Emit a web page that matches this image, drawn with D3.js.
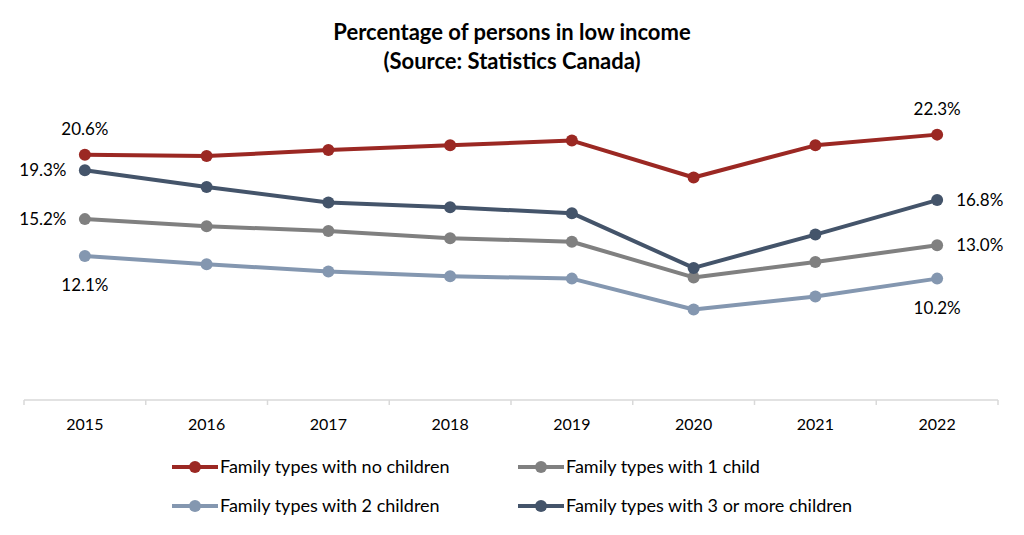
<!DOCTYPE html>
<html>
<head>
<meta charset="utf-8">
<script src="https://cdn.jsdelivr.net/npm/d3@7"></script>
<style>
  body { margin: 0; background: #fff; }
  svg text { font-family: Lato, "Open Sans", sans-serif; fill: #000; }
</style>
</head>
<body>
<svg id="chart" width="1024" height="535"></svg>
<script>
const years = ["2015", "2016", "2017", "2018", "2019", "2020", "2021", "2022"];
const noChildren = [20.6, 20.5, 21.0, 21.4, 21.8, 18.7, 21.4, 22.3];
const oneChild = [15.2, 14.6, 14.2, 13.6, 13.3, 10.3, 11.6, 13.0];
const twoChildren = [12.1, 11.4, 10.8, 10.4, 10.2, 7.6, 8.7, 10.2];
const threePlus = [19.3, 17.9, 16.6, 16.2, 15.7, 11.1, 13.9, 16.8];

const series = [
  { name: "Family types with no children", values: noChildren, color: "#9B2823" },
  { name: "Family types with 1 child", values: oneChild, color: "#808080" },
  { name: "Family types with 2 children", values: twoChildren, color: "#8497B0" },
  { name: "Family types with 3 or more children", values: threePlus, color: "#44546A" }
];

// drawing order: the dark series sits on top of the grey ones
const drawOrder = [series[2], series[1], series[3], series[0]];

const svg = d3.select("#chart");

const x = d3.scaleBand().domain(years).range([24, 998]);
const y = d3.scaleLinear().domain([0, 25]).range([400, 102.5]);

// title
svg.append("text")
  .attr("x", 512).attr("y", 40)
  .attr("text-anchor", "middle")
  .style("font-size", "22px").style("font-weight", "bold")
  .text("Percentage of persons in low income");
svg.append("text")
  .attr("x", 512).attr("y", 69)
  .attr("text-anchor", "middle")
  .style("font-size", "22px").style("font-weight", "bold")
  .text("(Source: Statistics Canada)");

// x axis
const xAxis = svg.append("g")
  .attr("transform", "translate(0,400)");
xAxis.append("line")
  .attr("x1", x.range()[0]).attr("x2", x.range()[1])
  .attr("stroke", "#d9d9d9").attr("stroke-width", 1.5);
const tickPos = years.map(d => x(d)).concat([x.range()[1]]);
xAxis.selectAll(".tick")
  .data(tickPos)
  .join("line")
  .attr("x1", d => d).attr("x2", d => d)
  .attr("y1", 0).attr("y2", 5)
  .attr("stroke", "#d9d9d9").attr("stroke-width", 1.5);
xAxis.selectAll(".lbl")
  .data(years)
  .join("text")
  .attr("x", d => x(d) + x.bandwidth() / 2)
  .attr("y", 30)
  .attr("text-anchor", "middle")
  .style("font-size", "16px")
  .text(d => d);

const cx = d => x(d) + x.bandwidth() / 2;
const line = d3.line()
  .x((d, i) => cx(years[i]))
  .y(d => y(d));

drawOrder.forEach(s => {
  svg.append("path")
    .datum(s.values)
    .attr("d", line)
    .attr("fill", "none")
    .attr("stroke", s.color)
    .attr("stroke-width", 4)
    .attr("stroke-linejoin", "round");
  svg.selectAll(null)
    .data(s.values)
    .join("circle")
    .attr("cx", (d, i) => cx(years[i]))
    .attr("cy", d => y(d))
    .attr("r", 6)
    .attr("fill", s.color);
});

// data labels at first and last year
const fmt = v => v.toFixed(1) + "%";
const first = years[0], last = years[years.length - 1];
const labels = [
  { yr: first, v: noChildren[0], dx: 0, dy: -20, anchor: "middle" },
  { yr: first, v: threePlus[0], dx: -42, dy: 6, anchor: "middle" },
  { yr: first, v: oneChild[0], dx: -42, dy: 6, anchor: "middle" },
  { yr: first, v: twoChildren[0], dx: 0, dy: 35, anchor: "middle" },
  { yr: last, v: noChildren[7], dx: 0, dy: -20, anchor: "middle" },
  { yr: last, v: threePlus[7], dx: 19, dy: 6, anchor: "start" },
  { yr: last, v: oneChild[7], dx: 19, dy: 6, anchor: "start" },
  { yr: last, v: twoChildren[7], dx: 0, dy: 35, anchor: "middle" }
];
svg.selectAll(".dlabel")
  .data(labels)
  .join("text")
  .attr("x", d => cx(d.yr) + d.dx)
  .attr("y", d => y(d.v) + d.dy)
  .attr("text-anchor", d => d.anchor)
  .style("font-size", "17px")
  .text(d => fmt(d.v));

// legend
const legendPos = [[172, 467], [518, 467], [172, 506], [518, 506]];
series.forEach((s, i) => {
  const [lx, ly] = legendPos[i];
  const g = svg.append("g").attr("transform", `translate(${lx},${ly})`);
  g.append("line").attr("x1", 0).attr("x2", 46)
    .attr("stroke", s.color).attr("stroke-width", 4);
  g.append("circle").attr("cx", 23).attr("r", 6).attr("fill", s.color);
  g.append("text").attr("x", 48).attr("y", 6)
    .style("font-size", "18px")
    .text(s.name);
});
</script>
</body>
</html>
